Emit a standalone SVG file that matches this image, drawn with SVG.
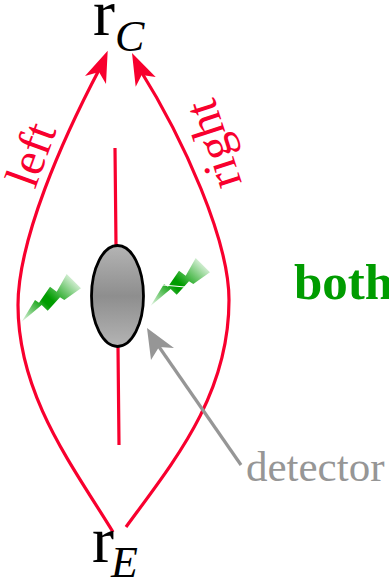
<svg xmlns="http://www.w3.org/2000/svg" width="389" height="581" viewBox="0 0 389 581">
<defs>
<linearGradient id="det" x1="0" y1="0" x2="0" y2="1"><stop offset="0" stop-color="#b4b4b4"/><stop offset="0.5" stop-color="#8e8e8e"/><stop offset="1" stop-color="#b4b4b4"/></linearGradient>
<linearGradient id="bolt" gradientUnits="userSpaceOnUse" x1="21" y1="325" x2="72" y2="270"><stop offset="0" stop-color="#fff"/><stop offset="0.44" stop-color="#009c00"/><stop offset="0.52" stop-color="#009c00"/><stop offset="1" stop-color="#fff"/></linearGradient>
<polygon id="b" points="21.500,322 35,300 39,302.700 50,286.700 56.700,291.700 66.700,274 81,288.300 64.300,300 60,297.300 47.700,310.700 41.700,305" fill="url(#bolt)"/>
<style>
.p{fill:none;stroke:#f8002e;stroke-width:3.200}
.s{font-family:"Liberation Serif",serif}
.r{fill:#f8002e;font-size:48px}
.m{fill:#000;font-size:66px}
.i{fill:#000;font-size:44px;font-style:italic}
</style>
</defs>
<g id="connectors">
<path class="p" d="M113,532C72,465 18,395 18,305C18,240 62,140 100,68"/>
<path class="p" d="M126,527C175,460 229,395 229,300C229,240 184,140 139,68"/>
<polygon fill="#f8002e" points="107.700,50.700 106,84 99,72 85,76"/>
<polygon fill="#f8002e" points="132,53 155.700,77 141.700,75 135.700,86.700"/>
<path class="p" d="M115,148L116,245M118,347L119,445"/>
<path d="M241,465L155,341" fill="none" stroke="#969696" stroke-width="3.200"/>
<polygon fill="#969696" points="147,328 174,348 159,347 151,360"/>
</g>
<g id="detector">
<ellipse cx="117.500" cy="296" rx="26" ry="50.500" fill="url(#det)" stroke="#000" stroke-width="2.800"/>
<text class="s" x="246" y="481" font-size="43" fill="#969696">detector</text>
</g>
<g id="bolt-left"><use href="#b"/></g>
<g id="bolt-right"><use href="#b" x="129" y="-16"/><path d="M163,285L185,287" stroke="#fff" stroke-width="1"/></g>
<g id="both"><text class="s" x="294" y="298.500" font-size="51" font-weight="bold" fill="#009c00">both</text></g>
<g id="rC"><text class="s m" x="93" y="35">r</text><text class="s i" x="115" y="51">C</text></g>
<g id="rE"><text class="s m" x="92" y="562">r</text><text class="s i" x="111" y="577">E</text></g>
<g id="left"><text class="s r" transform="translate(35,190) rotate(-70)">left</text></g>
<g id="right"><text class="s r" transform="translate(242,183) rotate(-108)">right</text></g>
</svg>
